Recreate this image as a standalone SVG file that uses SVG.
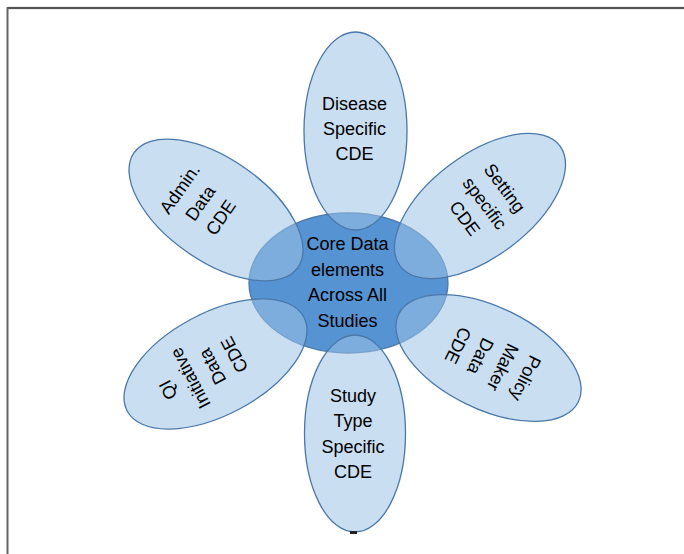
<svg xmlns="http://www.w3.org/2000/svg" width="684" height="554" viewBox="0 0 684 554">
<style>
.petal{fill:#9DC3E6;fill-opacity:0.55;stroke:#4A78A8;stroke-width:1.3}
.core{fill:#5693D2;stroke:#4A78A8;stroke-width:1.3}
.t{font-family:"Liberation Sans",Arial,sans-serif;font-size:18px;fill:#000;text-anchor:middle}
</style>
<rect x="0" y="0" width="684" height="554" fill="#fff"/>
<g id="frame">
<line x1="7" y1="8" x2="684" y2="8" stroke="#d8d8d8" stroke-width="3"/>
<line x1="7" y1="8" x2="684" y2="8" stroke="#2a2a2a" stroke-width="1.5"/>
<line x1="7.5" y1="7" x2="7.5" y2="554" stroke="#666" stroke-width="2"/>
</g>
<g id="core">
<ellipse class="core" cx="348.5" cy="283" rx="99.5" ry="70"/>
<text class="t" x="347.5" y="250">Core Data</text>
<text class="t" x="347.5" y="275.5">elements</text>
<text class="t" x="347.5" y="301">Across All</text>
<text class="t" x="347.5" y="326.5">Studies</text>
</g>
<g id="disease">
<ellipse class="petal" cx="355.5" cy="131" rx="51.5" ry="99"/>
<text class="t" x="354.5" y="110">Disease</text>
<text class="t" x="354.5" y="135">Specific</text>
<text class="t" x="354.5" y="160">CDE</text>
</g>
<g id="setting">
<ellipse class="petal" cx="480" cy="206" rx="51" ry="100" transform="rotate(53 480 206)"/>
<g transform="translate(485 203) rotate(53)">
<text class="t" x="0" y="-18.5">Setting</text>
<text class="t" x="0" y="6.5">specific</text>
<text class="t" x="0" y="31.5">CDE</text>
</g>
</g>
<g id="policy">
<ellipse class="petal" cx="488.5" cy="358" rx="51" ry="100" transform="rotate(116 488.5 358)"/>
<g transform="translate(492 362) rotate(116)">
<text class="t" x="0" y="-31">Policy</text>
<text class="t" x="0" y="-6">Maker</text>
<text class="t" x="0" y="19">Data</text>
<text class="t" x="0" y="44">CDE</text>
</g>
</g>
<g id="study">
<ellipse class="petal" cx="355" cy="433.5" rx="50.5" ry="98.5"/>
<text class="t" x="353" y="401.5">Study</text>
<text class="t" x="353" y="427">Type</text>
<text class="t" x="353" y="452.5">Specific</text>
<text class="t" x="353" y="478">CDE</text>
</g>
<g id="qi">
<ellipse class="petal" cx="215.5" cy="364" rx="51" ry="100" transform="rotate(-118 215.5 364)"/>
<g transform="translate(201 372.5) rotate(-118)">
<text class="t" x="0" y="-31">QI</text>
<text class="t" x="0" y="-6">Initiative</text>
<text class="t" x="0" y="19">Data</text>
<text class="t" x="0" y="44">CDE</text>
</g>
</g>
<g id="admin">
<ellipse class="petal" cx="216" cy="210" rx="51" ry="100" transform="rotate(-55 216 210)"/>
<g transform="translate(200 203) rotate(-55)">
<text class="t" x="0" y="-18.5">Admin.</text>
<text class="t" x="0" y="6.5">Data</text>
<text class="t" x="0" y="31.5">CDE</text>
</g>
</g>
<g id="mark">
<rect x="350" y="531" width="7" height="3" fill="#222"/>
</g>
</svg>
